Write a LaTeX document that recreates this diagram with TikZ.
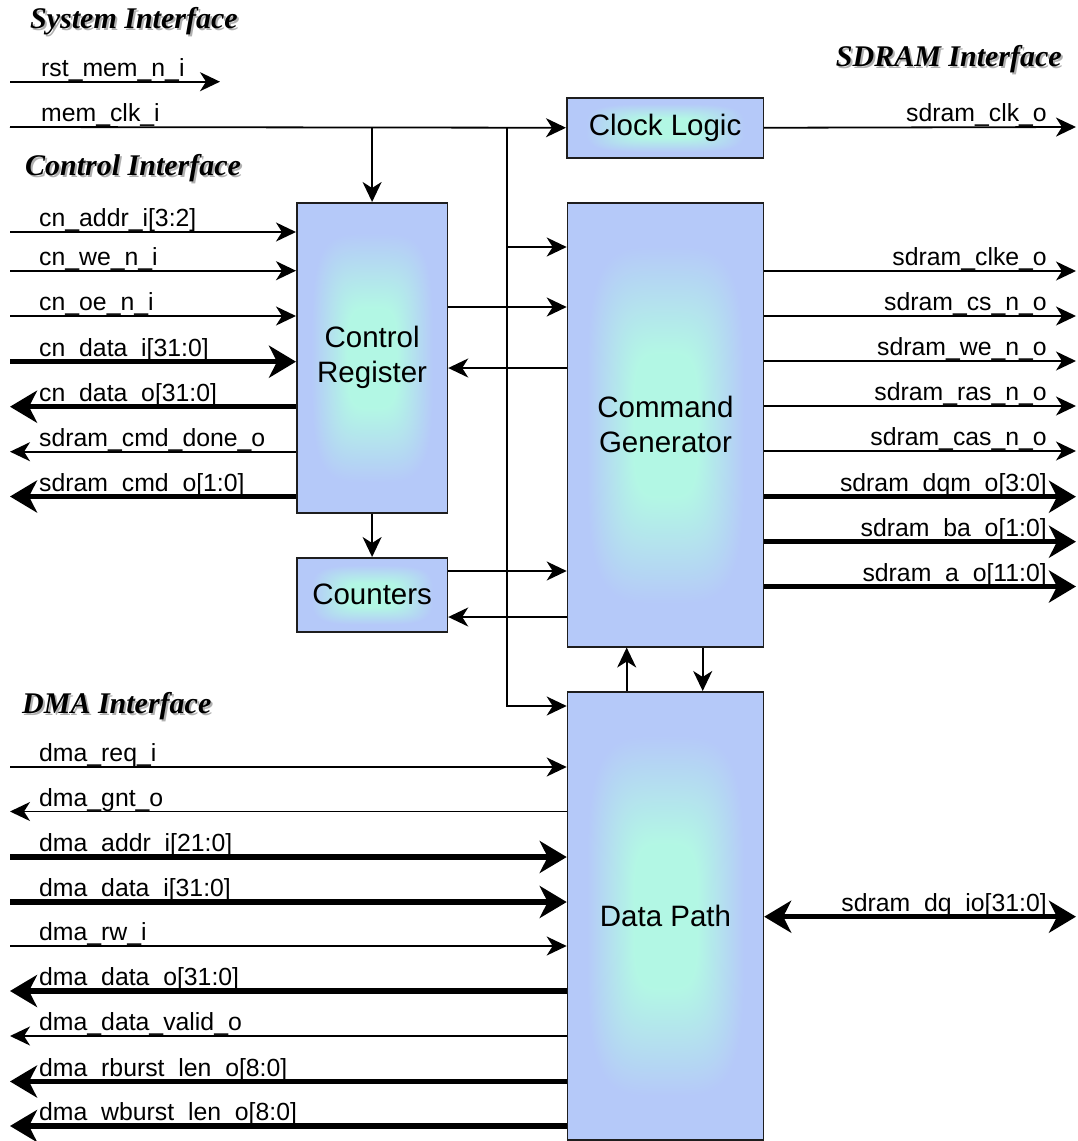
\documentclass[tikz,border=0pt]{standalone}
\usepackage{fontspec}
\setmainfont{Liberation Sans}
\newfontfamily\headfont{Liberation Serif}
\usetikzlibrary{arrows.meta}

\definecolor{boxline}{HTML}{1E1E1E}
\definecolor{shadowgray}{HTML}{B0B0B0}

% soft rounded-rectangle glow: aqua in the middle, periwinkle at the rim
\pgfdeclarefunctionalshading{boxglow}{\pgfpoint{-50bp}{-50bp}}{\pgfpoint{50bp}{50bp}}{}{
  abs 4 exp exch abs 4 exp add 0.25 exp
  8 sub 12 div
  dup 0 lt {pop 0} if
  dup 1 gt {pop 1} if
  dup dup
  0.08 mul 0.895 add
  3 1 roll
  -0.18 mul 0.97 add
  exch
  0.01 mul 0.70 add
  3 1 roll exch
}

\begin{document}
\begin{tikzpicture}[x=1pt,y=-1pt,
  blk/.style={draw=boxline, line width=1.5pt, shade, shading=boxglow,
    inner sep=0pt, align=center, anchor=north west,
    font=\fontsize{29.5}{35}\selectfont},
  sig/.style={line width=1.8pt, -{Stealth[length=20pt,width=19pt,inset=6pt]}},
  bus/.style={line width=5.5pt, -{Stealth[length=27pt,width=32pt,inset=8pt]}},
  dbus/.style={line width=5.5pt, {Stealth[length=27pt,width=32pt,inset=8pt]}-{Stealth[length=27pt,width=32pt,inset=8pt]}},
  lbl/.style={font=\fontsize{24.8}{24.8}\selectfont, inner sep=0pt, anchor=base west},
  rlbl/.style={lbl, anchor=base east},
  ttl/.style={font=\headfont\bfseries\itshape\fontsize{30}{30}\selectfont, inner sep=0pt},
  ttlshadow/.style={ttl, text=shadowgray}]

\useasboundingbox (0,0) rectangle (1078,1141);

% ---------- interface headings ----------
\node[ttlshadow, anchor=base west] (tSysS) at (32,30) {System Interface};
\node[ttl, anchor=base west] (tSys) at (30,28) {System Interface};
\node[ttlshadow, anchor=base east] (tSdrS) at (1064,68) {SDRAM Interface};
\node[ttl, anchor=base east] (tSdr) at (1062,66) {SDRAM Interface};
\node[ttlshadow, anchor=base west] (tCtlS) at (27,177) {Control Interface};
\node[ttl, anchor=base west] (tCtl) at (25,175) {Control Interface};
\node[ttlshadow, anchor=base west] (tDmaS) at (24,715) {DMA Interface};
\node[ttl, anchor=base west] (tDma) at (22,713) {DMA Interface};

% ---------- functional blocks ----------
\node[blk, minimum width=196.7pt, minimum height=60pt] (cl) at (566,97) {Clock Logic};
\node[blk, minimum width=150.7pt, minimum height=310pt] (cr) at (296,202) {Control\\Register};
\node[blk, minimum width=196pt, minimum height=444pt] (cg) at (566.7,202) {Command\\Generator};
\node[blk, minimum width=150.7pt, minimum height=74pt] (cnt) at (296,557) {Counters};
\node[blk, minimum width=196pt, minimum height=448pt] (dp) at (566.7,691) {Data Path};

% ---------- system interface ----------
\coordinate (rstA) at (10,81.7);
\coordinate (rstB) at (220,81.7);
\draw[sig] (rstA) -- (rstB);
\node[lbl] (lRst) at (41,76.5) {rst\_mem\_n\_i};

\coordinate (clkin) at (10,127);
\draw[sig] (clkin) -- (cl.west);
\node[lbl] (lClk) at (41,121.5) {mem\_clk\_i};

% clock distribution
\coordinate (trunk) at (507,127);
\coordinate (cgclk) at ([yshift=-45pt]cg.north west);
\coordinate (dpclk) at ([yshift=-15pt]dp.north west);
\draw[sig] (trunk) |- (dpclk);
\draw[sig] (trunk |- cgclk) -- (cgclk);
\draw[sig] (cr.north |- clkin) -- (cr.north);

% clock output
\coordinate (sclk) at (1076,127);
\draw[sig] (cl.east) -- (sclk);
\node[rlbl] (lSclk) at (1047,121.5) {sdram\_clk\_o};

% ---------- internal connections ----------
\coordinate (crcg) at ([yshift=-105pt]cr.north east);
\draw[sig] (crcg) -- (crcg -| cg.west);
\coordinate (cgcr) at ([yshift=-166pt]cr.north east);
\draw[sig] (cgcr -| cg.west) -- (cgcr);
\draw[sig] (cr.south) -- (cnt.north);
\coordinate (cntcg) at ([yshift=-14pt]cnt.north east);
\draw[sig] (cntcg) -- (cntcg -| cg.west);
\coordinate (cgcnt) at ([yshift=-60pt]cnt.north east);
\draw[sig] (cgcnt -| cg.west) -- (cgcnt);
\coordinate (upx) at ([xshift=60pt]dp.north west);
\draw[sig] (upx) -- (upx |- cg.south);
\coordinate (dnx) at ([xshift=136pt]cg.south west);
\draw[sig] (dnx) -- (dnx |- dp.north);

% ---------- control interface ----------
\foreach \nm/\y/\txt/\kind in {
  cnAddr/232/{cn\_addr\_i[3:2]}/sig,
  cnWe/270.7/{cn\_we\_n\_i}/sig,
  cnOe/316/{cn\_oe\_n\_i}/sig,
  cnDi/361.7/{cn\_data\_i[31:0]}/bus}{
  \coordinate (\nm) at (10,\y);
  \draw[\kind] (\nm) -- (\nm -| cr.west);
  \node[lbl] (\nm-t) at (39,\y-5.5) {\txt};
}
\foreach \nm/\y/\txt/\kind in {
  cnDo/406.7/{cn\_data\_o[31:0]}/bus,
  cmdDone/451.7/{sdram\_cmd\_done\_o}/sig,
  cmdO/496.5/{sdram\_cmd\_o[1:0]}/bus}{
  \coordinate (\nm) at (10,\y);
  \draw[\kind] (\nm -| cr.west) -- (\nm);
  \node[lbl] (\nm-t) at (39,\y-5.5) {\txt};
}

% ---------- SDRAM interface ----------
\foreach \nm/\y/\txt/\kind in {
  clke/271/{sdram\_clke\_o}/sig,
  cs/316/{sdram\_cs\_n\_o}/sig,
  we/361/{sdram\_we\_n\_o}/sig,
  ras/406/{sdram\_ras\_n\_o}/sig,
  cas/451/{sdram\_cas\_n\_o}/sig,
  dqm/496.7/{sdram\_dqm\_o[3:0]}/bus,
  ba/541.7/{sdram\_ba\_o[1:0]}/bus,
  addr/586.5/{sdram\_a\_o[11:0]}/bus}{
  \coordinate (\nm) at (1076,\y);
  \draw[\kind] (\nm -| cg.east) -- (\nm);
  \node[rlbl] (\nm-t) at (1047,\y-5.5) {\txt};
}
\coordinate (dq) at (1076,916.7);
\draw[dbus] (dq -| dp.east) -- (dq);
\node[rlbl] (dq-t) at (1047,911.2) {sdram\_dq\_io[31:0]};

% ---------- DMA interface ----------
\foreach \nm/\y/\txt/\kind in {
  dReq/767/{dma\_req\_i}/sig,
  dAddr/857/{dma\_addr\_i[21:0]}/bus,
  dDi/902/{dma\_data\_i[31:0]}/bus,
  dRw/946/{dma\_rw\_i}/sig}{
  \coordinate (\nm) at (10,\y);
  \draw[\kind] (\nm) -- (\nm -| dp.west);
  \node[lbl] (\nm-t) at (39,\y-5.5) {\txt};
}
\foreach \nm/\y/\txt/\kind in {
  dGnt/811.5/{dma\_gnt\_o}/sig,
  dDo/991/{dma\_data\_o[31:0]}/bus,
  dValid/1036/{dma\_data\_valid\_o}/sig,
  dRb/1081.5/{dma\_rburst\_len\_o[8:0]}/bus,
  dWb/1126/{dma\_wburst\_len\_o[8:0]}/bus}{
  \coordinate (\nm) at (10,\y);
  \draw[\kind] (\nm -| dp.west) -- (\nm);
  \node[lbl] (\nm-t) at (39,\y-5.5) {\txt};
}
\end{tikzpicture}
\end{document}
